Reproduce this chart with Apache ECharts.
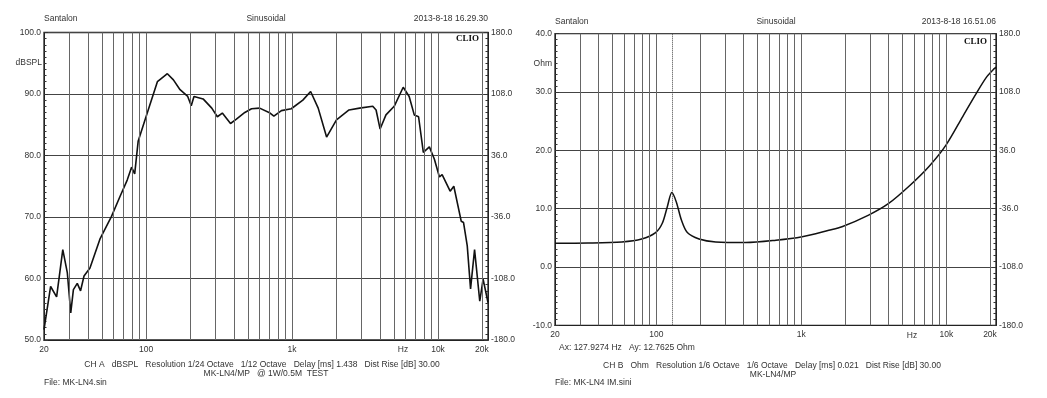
<!DOCTYPE html>
<html>
<head>
<meta charset="utf-8">
<script src="https://cdn.jsdelivr.net/npm/echarts@6/dist/echarts.min.js"></script>
<style>
  html, body { margin: 0; padding: 0; background: #fff; }
  #chart { width: 1047px; height: 398px; }
</style>
</head>
<body>
<div id="chart"></div>
<script>
// left plot: SPL response
const freqA = [20, 22.2, 24.4, 26.9, 28.9, 30.5, 31.8, 33.8, 35.6, 37.6, 41.3, 48.3, 58, 66.2, 74.3,
  79.6, 83.6, 88.3, 101.9, 119.6, 127, 140, 154, 171, 193, 204, 213, 246, 282, 308, 333, 379, 416,
  475, 528, 600, 707, 751, 846, 988, 1186, 1341, 1511, 1725, 2016, 2457, 2903, 3573, 3765, 4012, 4400,
  5010, 5776, 6345, 6876, 7360, 7934, 8727, 9446, 10225, 10670, 12110, 12830, 14430, 14960, 15860,
  16710, 17800, 19320, 20360, 22000];
const splA = [51.7, 58.7, 57.0, 64.7, 60.9, 54.4, 58.2, 59.2, 58.0, 60.4, 61.7, 66.4, 70.1, 73.3, 76.0,
  78.1, 77.0, 82.3, 86.9, 92.0, 92.5, 93.3, 92.3, 90.7, 89.6, 88.1, 89.6, 89.2, 87.7, 86.3, 86.9, 85.2, 85.9,
  87.0, 87.6, 87.7, 86.9, 86.4, 87.3, 87.6, 89.0, 90.4, 87.7, 83.0, 85.8, 87.4, 87.7, 88.0, 87.4, 84.3, 86.6,
  88.0, 91.1, 89.6, 86.6, 86.3, 80.5, 81.4, 79.4, 76.5, 76.9, 74.2, 75.0, 69.3, 69.1, 65.3,
  58.3, 64.7, 56.3, 59.9, 56.1];

// right plot: impedance
const freqB = [20, 33.8, 57.8, 79.2, 98.8, 109.9, 118.9, 127.9274, 137.1, 149.1, 163.5, 196.9, 256.7,
  413, 668, 1013, 1546, 1907, 2910, 4002, 5500, 7560, 9940, 12970, 16130, 18980, 22000];
const ohmB = [4.05, 4.1, 4.3, 4.8, 5.9, 7.5, 10.3, 12.7625, 11.2, 8.0, 5.9, 4.8, 4.3,
  4.2, 4.6, 5.2, 6.3, 6.9, 8.9, 10.9, 13.8, 17.2, 20.9, 25.8, 29.8, 32.6, 34.3];
const cursorFreq = 127.9274;

// axes
const gridFreqs = [30, 40, 50, 60, 70, 80, 90, 100, 200, 300, 400, 500, 600, 700, 800, 900,
  1000, 2000, 3000, 4000, 5000, 6000, 7000, 8000, 9000, 10000, 20000];
const freqLabels = [20, 100, 1000, 10000, 20000];
const freqRange = [20, 22000];
const splRange = [50, 100];
const ohmRange = [-10, 40];
const phaseRange = [-180, 180];

// texts
const headerA = ['Santalon', 'Sinusoidal', '2013-8-18 16.29.30'];
const headerB = ['Santalon', 'Sinusoidal', '2013-8-18 16.51.06'];
const footerA = ['CH A   dBSPL   Resolution 1/24 Octave   1/12 Octave   Delay [ms] 1.438   Dist Rise [dB] 30.00',
  'MK-LN4/MP   @ 1W/0.5M  TEST', 'File: MK-LN4.sin'];
const footerB = ['CH B   Ohm   Resolution 1/6 Octave   1/6 Octave   Delay [ms] 0.021   Dist Rise [dB] 30.00',
  'MK-LN4/MP', 'File: MK-LN4 IM.sini'];
const cursorText = 'Ax: 127.9274 Hz   Ay: 12.7625 Ohm';

const FONT = '8.5px "Liberation Sans", Arial, sans-serif';
const INK = '#333';

function pairs(xs, ys) {
  return xs.map((x, i) => [x, ys[i]]);
}

function fmtFreq(v) {
  return v >= 1000 ? (v / 1000) + 'k' : String(v);
}

function text(x, y, str, align, extra) {
  return {
    type: 'text', x, y, silent: true,
    style: Object.assign({ text: str, font: FONT, fill: INK, textAlign: align || 'left', textVerticalAlign: 'middle' }, extra || {}),
  };
}

function xAxisFor(gridIndex) {
  return {
    type: 'log', logBase: 10, gridIndex,
    min: freqRange[0], max: freqRange[1],
    axisLine: { show: true, onZero: false, lineStyle: { color: '#222', width: 1 } },
    axisTick: { show: false },
    splitLine: { show: false },
    axisLabel: {
      customValues: freqLabels, formatter: fmtFreq,
      color: INK, fontSize: 8.5, fontFamily: 'Liberation Sans', margin: 5,
    },
  };
}

function yAxisFor(gridIndex, range, interval, position, withSplit) {
  return {
    type: 'value', gridIndex, position,
    min: range[0], max: range[1], interval,
    axisLine: { show: true, lineStyle: { color: '#222', width: 1 } },
    axisTick: { show: true, inside: true, length: 4, lineStyle: { color: INK } },
    minorTick: { show: true, splitNumber: 10, length: 2.5, lineStyle: { color: INK } },
    splitLine: { show: withSplit, lineStyle: { color: '#444', width: 1 } },
    axisLabel: {
      formatter: v => v.toFixed(1), color: INK, fontSize: 8.5, fontFamily: 'Liberation Sans', margin: 3,
    },
  };
}

function gridLineSeries(xAxisIndex, yAxisIndex, xs, ys, extra) {
  const lines = gridFreqs.map(f => ({ xAxis: f }));
  if (extra) lines.push(extra);
  return {
    type: 'line', xAxisIndex, yAxisIndex, z: 1, silent: true,
    data: pairs(xs, ys), showSymbol: false,
    lineStyle: { opacity: 0 },
    markLine: {
      silent: true, symbol: 'none', animation: false,
      label: { show: false },
      lineStyle: { type: 'solid', color: '#666', width: 1 },
      data: lines,
    },
  };
}

const chart = echarts.init(document.getElementById('chart'), null, { renderer: 'canvas' });

chart.setOption({
  animation: false,
  backgroundColor: '#fff',
  grid: [
    { left: 44, top: 32.5, right: 559, bottom: 58, show: true, borderColor: '#222', borderWidth: 1.3, backgroundColor: '#fff' },
    { left: 555, top: 33.7, right: 51, bottom: 72.7, show: true, borderColor: '#222', borderWidth: 1.3, backgroundColor: '#fff' },
  ],
  xAxis: [xAxisFor(0), xAxisFor(1)],
  yAxis: [
    yAxisFor(0, splRange, 10, 'left', true),
    yAxisFor(0, phaseRange, 72, 'right', false),
    yAxisFor(1, ohmRange, 10, 'left', true),
    yAxisFor(1, phaseRange, 72, 'right', false),
  ],
  series: [
    gridLineSeries(0, 0, freqA, splA),
    {
      type: 'line', xAxisIndex: 0, yAxisIndex: 0, z: 3,
      data: pairs(freqA, splA), showSymbol: false,
      lineStyle: { color: '#111', width: 1.6 },
    },
    gridLineSeries(1, 2, freqB, ohmB, {
      xAxis: cursorFreq, lineStyle: { type: 'dotted', color: '#444', width: 1 },
    }),
    {
      type: 'line', xAxisIndex: 1, yAxisIndex: 2, z: 3,
      data: pairs(freqB, ohmB), showSymbol: false, smooth: 0.3,
      lineStyle: { color: '#111', width: 1.5 },
    },
  ],
  graphic: [
    text(44, 19, headerA[0]),
    text(266, 19, headerA[1], 'center'),
    text(488, 19, headerA[2], 'right'),
    text(42, 63, 'dBSPL', 'right'),
    text(479, 38.5, 'CLIO', 'right', { font: 'bold 9px "Liberation Serif", serif', fill: '#111' }),
    text(403, 350, 'Hz', 'center'),
    text(262, 364.5, footerA[0], 'center'),
    text(266, 373.5, footerA[1], 'center'),
    text(44, 383, footerA[2]),

    text(555, 21.5, headerB[0]),
    text(776, 21.5, headerB[1], 'center'),
    text(996, 21.5, headerB[2], 'right'),
    text(552, 64, 'Ohm', 'right'),
    text(987, 41.5, 'CLIO', 'right', { font: 'bold 9px "Liberation Serif", serif', fill: '#111' }),
    text(912, 336, 'Hz', 'center'),
    text(559, 347.5, cursorText),
    text(772, 366, footerB[0], 'center'),
    text(773, 375, footerB[1], 'center'),
    text(555, 383, footerB[2]),
  ],
});
</script>
</body>
</html>
